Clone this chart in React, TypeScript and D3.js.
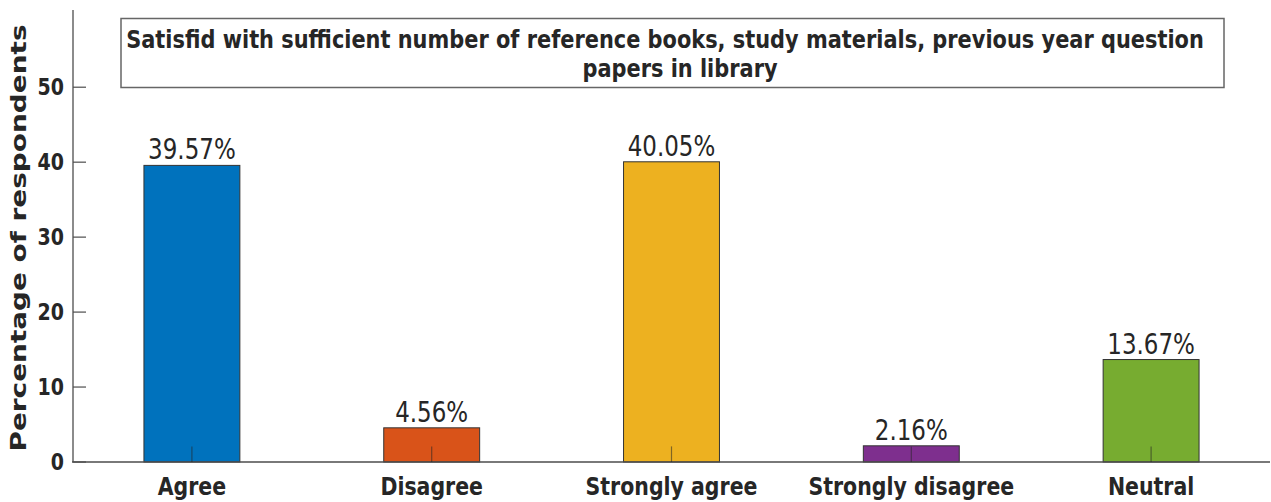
import * as d3 from "d3";

const CATEGORIES = ["Agree", "Disagree", "Strongly agree", "Strongly disagree", "Neutral"];
const VALUES = [39.57, 4.56, 40.05, 2.16, 13.67];
const BAR_COLORS = ["#0072BD", "#D95319", "#EDB120", "#7E2F8E", "#77AC30"];
const Y_TICKS = [0, 10, 20, 30, 40, 50];
const TITLE_LINES = [
  "Satisfid with sufficient number of reference books, study materials, previous year question",
  "papers in library",
];
const Y_LABEL = "Percentage of respondents";

const W = 1271;
const H = 502;
const STRETCH = 1.2; // the picture's text is taller than it is wide
const FONT = "'DejaVu Sans', sans-serif";
const AXIS = "#4d4d4d";
const TEXT = "#262626";

function StretchText({ x, y, size, weight, anchor, children, baseline }: any) {
  return (
    <text
      transform={`translate(${x},${y}) scale(1,${STRETCH})`}
      fontFamily={FONT}
      fontSize={size}
      fontWeight={weight}
      textAnchor={anchor}
      dominantBaseline={baseline}
      fill={TEXT}
    >
      {children}
    </text>
  );
}

export default function App() {
  const x = d3
    .scaleLinear()
    .domain([0.5, CATEGORIES.length + 0.5])
    .range([72, W]);
  const y = d3.scaleLinear().domain([0, 60.3]).range([462, 10]);
  const barW = (x(1) - x(0)) * 0.4;
  const tickLen = 13;

  return (
    <div style={{ position: "fixed", left: 0, top: 0 }}>
      <svg width={W} height={H} style={{ display: "block", background: "#fff" }}>
        {/* bars */}
        {VALUES.map((v, i) => (
          <rect
            key={CATEGORIES[i]}
            x={x(i + 1) - barW / 2}
            y={y(v)}
            width={barW}
            height={y(0) - y(v)}
            fill={BAR_COLORS[i]}
            stroke="#333"
            strokeWidth={1}
          />
        ))}

        {/* axes */}
        <line x1={x.range()[0] + 1} x2={x.range()[0] + 1} y1={y.range()[1]} y2={y(0)} stroke={AXIS} strokeWidth={1.3} />
        <line x1={x.range()[0]} x2={W - 1} y1={y(0)} y2={y(0)} stroke={AXIS} strokeWidth={1.5} />
        {Y_TICKS.map((t) => (
          <g key={t}>
            <line x1={73} x2={73 + tickLen} y1={y(t)} y2={y(t)} stroke={AXIS} strokeWidth={1.2} />
            <StretchText x={64} y={y(t)} size={19} weight="bold" anchor="end" baseline="central">
              {t}
            </StretchText>
          </g>
        ))}
        {CATEGORIES.map((c, i) => (
          <g key={c}>
            <line
              x1={x(i + 1)}
              x2={x(i + 1)}
              y1={y(0)}
              y2={y(0) - tickLen * STRETCH}
              stroke="#262626"
              strokeOpacity={0.55}
              strokeWidth={1.2}
            />
            <StretchText x={x(i + 1)} y={495} size={20.5} weight="bold" anchor="middle">
              {c}
            </StretchText>
            <StretchText x={x(i + 1)} y={y(VALUES[i]) - 6} size={23} weight="normal" anchor="middle">
              {`${VALUES[i].toFixed(2)}%`}
            </StretchText>
          </g>
        ))}

        {/* y label */}
        <text
          transform={`translate(26,${238}) rotate(-90)`}
          fontFamily={FONT}
          fontSize={20.5}
          fontWeight="bold"
          textAnchor="middle"
          fill={TEXT}
          textLength={427}
          lengthAdjust="spacingAndGlyphs"
        >
          {Y_LABEL}
        </text>

        {/* title box */}
        <rect x={121} y={18.5} width={1103} height={69} fill="#fff" stroke="#666" strokeWidth={1.5} />
        {TITLE_LINES.map((line, i) => (
          <StretchText key={i} x={i === 0 ? 665 : 680} y={48 + i * 29} size={20.9} weight="bold" anchor="middle">
            {line}
          </StretchText>
        ))}
      </svg>
    </div>
  );
}
